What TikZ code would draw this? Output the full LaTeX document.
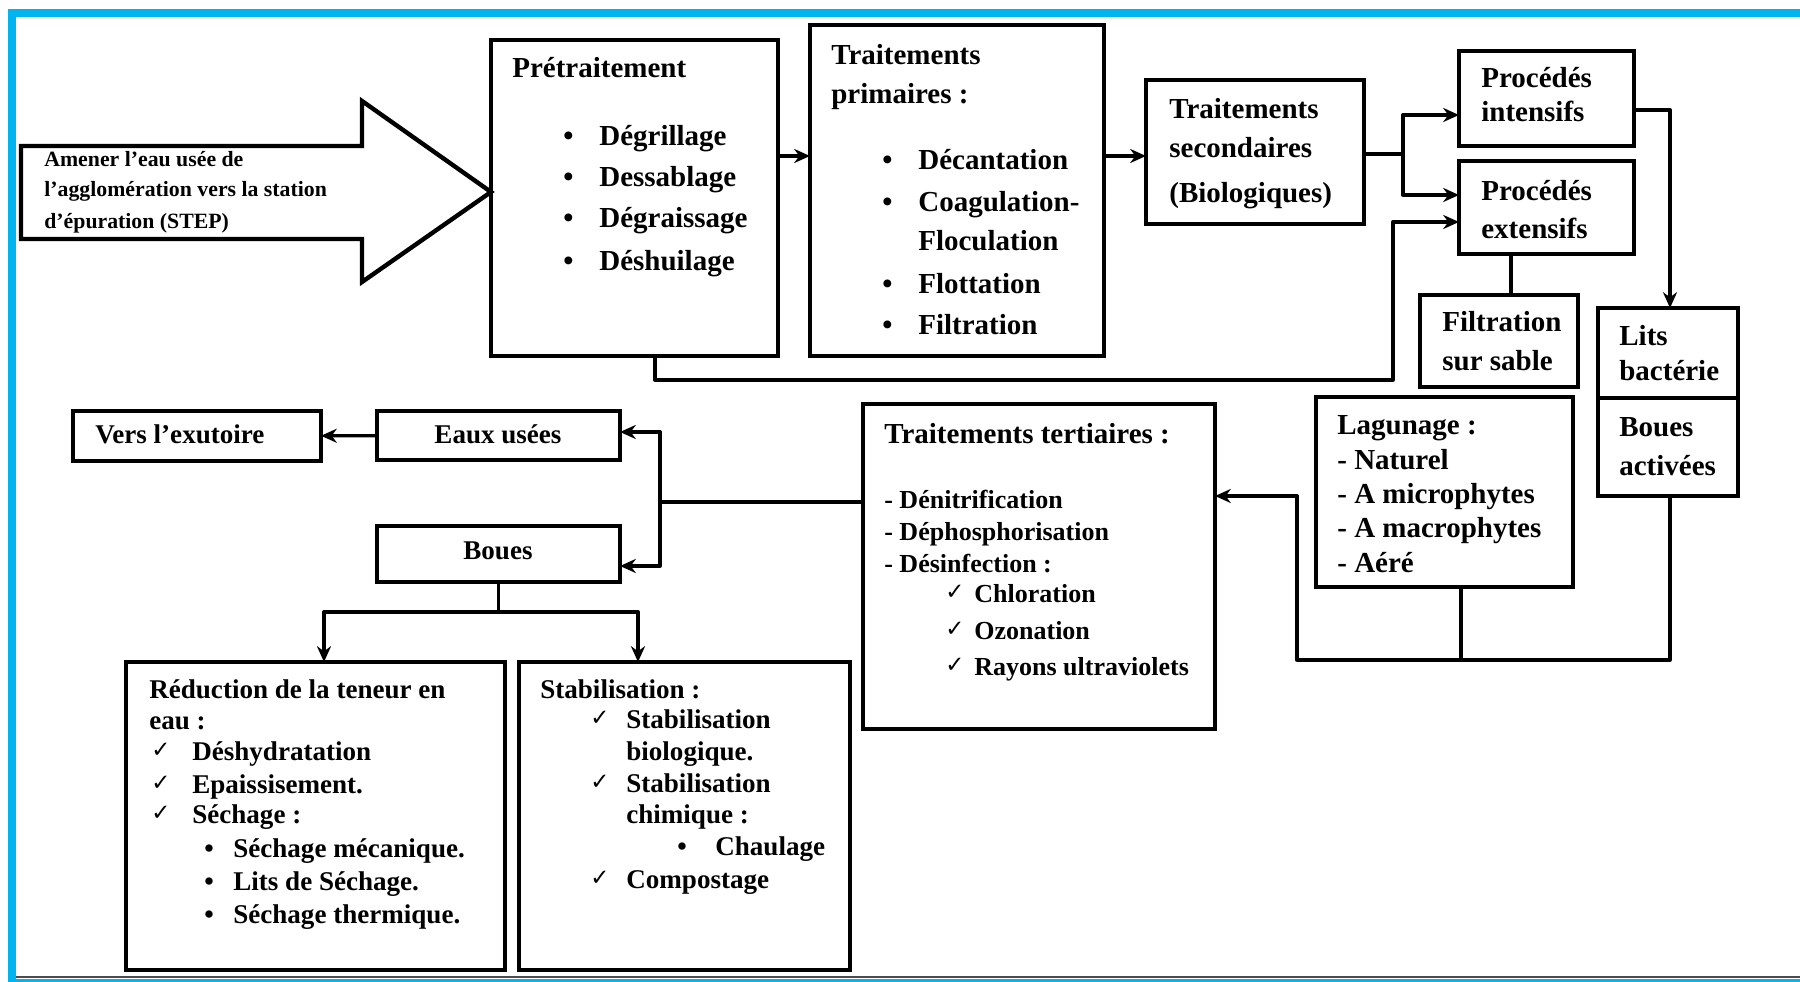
\documentclass[tikz,border=0pt]{standalone}
\usepackage{fontspec}
\setmainfont{Liberation Serif}
\newfontfamily\symfont{DejaVu Sans}
\usetikzlibrary{arrows.meta}
\definecolor{frameblue}{HTML}{00B4F0}

\begin{document}
\begin{tikzpicture}
    [x=0.02cm,y=-0.02cm,
    box/.style={draw,line width=2.5pt,anchor=north west,inner sep=0,outer sep=0},
    size/.style 2 args={minimum width=#1*0.02cm,minimum height=#2*0.02cm},
    txt/.style={anchor=base west,inner sep=0,font=\bfseries\fontsize{16.5}{18}\selectfont},
    txtm/.style={txt,font=\bfseries\fontsize{15.4}{17}\selectfont},
    txts/.style={txt,font=\bfseries\fontsize{14.8}{16}\selectfont},
    txtt/.style={txt,font=\bfseries\fontsize{12.4}{14}\selectfont},
    chk/.style={anchor=base west,inner sep=0,font=\symfont\fontsize{13}{14}\selectfont},
    link/.style={line width=1.9pt,line join=round},
    arr/.style={link,-{Stealth[length=9pt,width=8pt]}}]
    \useasboundingbox (0,0) rectangle (1800,982);
    %frame
    \draw[frameblue,line width=4.5pt] (12,983) -- (12,13) -- (1800,13);
    \draw[frameblue,line width=4.5pt] (12,983) -- (1800,983);
    \draw[gray!60!black,line width=1pt] (16,977) -- (1800,977);
    %big inlet arrow
    \draw[line width=2.5pt,line join=miter] (21,146)--(362,146)--(362,101)--(491,192)--(362,282)--(362,239)--(21,239)--cycle;
    \node[txtt] (in1) at (44,167) {Amener l’eau usée de};
    \node[txtt] (in2) at (44,197) {l’agglomération vers la station};
    \node[txtt] (in3) at (44,229) {d’épuration (STEP)};
    %boxes
    \node[box,size={287}{316}] (pre) at (491,40) {};
    \node[box,size={294}{331}] (prim) at (810,25) {};
    \node[box,size={218}{144}] (sec) at (1146,80) {};
    \node[box,size={175}{95}] (intens) at (1459,51) {};
    \node[box,size={175}{93}] (extens) at (1459,161) {};
    \node[box,size={158}{92}] (filt) at (1420,295) {};
    \node[box,size={140}{90}] (lits) at (1598,308) {};
    \node[box,size={140}{98}] (bact) at (1598,398) {};
    \node[box,size={257}{190}] (lag) at (1316,397) {};
    \node[box,size={352}{325}] (tert) at (863,404) {};
    \node[box,size={243}{49}] (eaux) at (377,411) {};
    \node[box,size={248}{50}] (exut) at (73,411) {};
    \node[box,size={243}{56}] (boues) at (377,526) {};
    \node[box,size={379}{308}] (reduc) at (126,662) {};
    \node[box,size={331}{308}] (stab) at (519,662) {};
    %pretraitement
    \node[txt] (pre-t) at (512,78) {Prétraitement};
    \foreach \y/\w [count=\i] in {146/Dégrillage,187/Dessablage,228/Dégraissage,271/Déshuilage}{
        \node[txt] (pre-b\i) at (563,\y) {\textbullet};
        \node[txt] (pre-\i) at (599,\y) {\w};}
    %primaires
    \node[txt] (prim-t1) at (831,65) {Traitements};
    \node[txt] (prim-t2) at (831,104) {primaires :};
    \foreach \y/\w [count=\i] in {170/Décantation,212/Coagulation-,294/Flottation,335/Filtration}{
        \node[txt] (prim-b\i) at (882,\y) {\textbullet};
        \node[txt] (prim-\i) at (918,\y) {\w};}
    \node[txt] (prim-5) at (918,251) {Floculation};
    %secondaires
    \node[txt] (sec-1) at (1169,119) {Traitements};
    \node[txt] (sec-2) at (1169,158) {secondaires};
    \node[txt] (sec-3) at (1169,203) {(Biologiques)};
    \node[txt] (intens-1) at (1481,88) {Procédés};
    \node[txt] (intens-2) at (1481,122) {intensifs};
    \node[txt] (extens-1) at (1481,201) {Procédés};
    \node[txt] (extens-2) at (1481,239) {extensifs};
    \node[txt] (filt-1) at (1442,332) {Filtration};
    \node[txt] (filt-2) at (1442,371) {sur sable};
    \node[txt] (lits-1) at (1619,346) {Lits};
    \node[txt] (lits-2) at (1619,381) {bactérie};
    \node[txt] (bact-1) at (1619,437) {Boues};
    \node[txt] (bact-2) at (1619,476) {activées};
    %lagunage
    \node[txt] (lag-t) at (1337,435) {Lagunage :};
    \foreach \y/\w [count=\i] in {470/Naturel,504/A microphytes,538/A macrophytes,573/Aéré}{
        \node[txt] (lag-\i) at (1337,\y) {- \w};}
    %tertiaires
    \node[txt] (tert-t) at (884,444) {Traitements tertiaires :};
    \foreach \y/\w [count=\i] in {509/Dénitrification,541/Déphosphorisation,573/Désinfection :}{
        \node[txts] (tert-\i) at (884,\y) {- \w};}
    \foreach \y/\w [count=\i] in {603/Chloration,640/Ozonation,676/Rayons ultraviolets}{
        \node[chk] (tert-c\i) at (945,\y-3) {✓};
        \node[txts] (tert-d\i) at (974,\y) {\w};}
    %eaux usees et boues
    \node[txtm,anchor=base] (eaux-t) at (498,444) {Eaux usées};
    \node[txtm] (exut-t) at (95,444) {Vers l’exutoire};
    \node[txtm,anchor=base] (boues-t) at (498,560) {Boues};
    %reduction
    \node[txtm] (reduc-t1) at (149,699) {Réduction de la teneur en};
    \node[txtm] (reduc-t2) at (149,730) {eau :};
    \foreach \y/\w [count=\i] in {761/Déshydratation,794/Epaissisement.,824/Séchage :}{
        \node[chk] (reduc-c\i) at (151,\y-3) {✓};
        \node[txtm] (reduc-\i) at (192,\y) {\w};}
    \foreach \y/\w [count=\i] in {858/Séchage mécanique.,891/Lits de Séchage.,924/Séchage thermique.}{
        \node[txtm] (reduc-b\i) at (204,\y) {\textbullet};
        \node[txtm] (reduc-s\i) at (233,\y) {\w};}
    %stabilisation
    \node[txtm] (stab-t) at (540,699) {Stabilisation :};
    \foreach \y/\w [count=\i] in {729/Stabilisation,793/Stabilisation,889/Compostage}{
        \node[chk] (stab-c\i) at (590,\y-3) {✓};
        \node[txtm] (stab-\i) at (626,\y) {\w};}
    \node[txtm] (stab-4) at (626,761) {biologique.};
    \node[txtm] (stab-5) at (626,824) {chimique :};
    \node[txtm] (stab-b) at (677,856) {\textbullet};
    \node[txtm] (stab-6) at (715,856) {Chaulage};
    %connectors top
    \coordinate (h1) at (790,156);
    \draw[arr] (pre.east |- h1) -- (prim.west |- h1);
    \draw[arr] (prim.east |- h1) -- (sec.west |- h1);
    \coordinate (s1) at (1403,154);
    \coordinate (s2) at (1403,115);
    \coordinate (s3) at (1403,195);
    \draw[link] (sec.east |- s1) -- (s1);
    \draw[arr] (s1) -- (s2) -- (intens.west |- s2);
    \draw[arr] (s1) -- (s3) -- (extens.west |- s3);
    \coordinate (b1) at (655,380);
    \coordinate (b2) at (1393,380);
    \coordinate (b3) at (1393,222);
    \draw[arr] (pre.south -| b1) -- (b1) -- (b2) -- (b3) -- (extens.west |- b3);
    \coordinate (f1) at (1511,270);
    \draw[link] (extens.south -| f1) -- (filt.north -| f1);
    \coordinate (l1) at (1670,110);
    \draw[arr] (intens.east |- l1) -- (l1) -- (lits.north -| l1);
    %connectors bottom right
    \coordinate (g1) at (1461,660);
    \coordinate (g2) at (1670,660);
    \coordinate (g3) at (1297,660);
    \coordinate (g4) at (1297,496);
    \draw[link] (lag.south -| g1) -- (g1);
    \draw[arr] (bact.south -| g2) -- (g2) -- (g3) -- (g4) -- (tert.east |- g4);
    %connectors left
    \coordinate (m1) at (660,502);
    \coordinate (m2) at (660,432);
    \coordinate (m3) at (660,566);
    \draw[link] (tert.west |- m1) -- (m1);
    \draw[arr] (m1) -- (m2) -- (eaux.east |- m2);
    \draw[arr] (m1) -- (m3) -- (boues.east |- m3);
    \draw[arr] (eaux) -- (exut);
    \coordinate (d1) at (498,612);
    \coordinate (d2) at (324,612);
    \coordinate (d3) at (638,612);
    \draw[link] (boues.south) -- (boues.south |- d1);
    \draw[arr] (d1) -- (d2) -- (reduc.north -| d2);
    \draw[arr] (d1) -- (d3) -- (stab.north -| d3);
\end{tikzpicture}
\end{document}
